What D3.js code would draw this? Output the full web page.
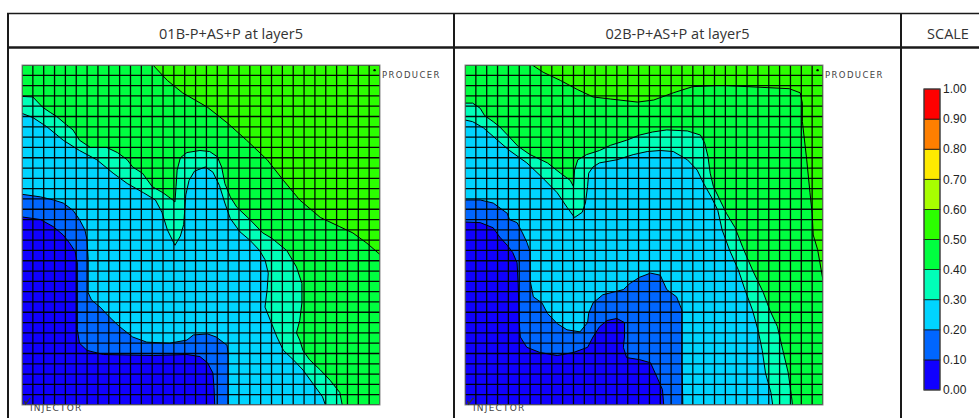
<!DOCTYPE html>
<html>
<head>
<meta charset="utf-8">
<script src="https://cdn.jsdelivr.net/npm/d3@7"></script>
<style>
  body { margin: 0; background: #fff; }
  svg { display: block; }
</style>
</head>
<body>
<svg id="chart" width="979" height="418"></svg>
<script>
// ---- colour scale (saturation bands) ----
const bandEdges = [0, 0.1, 0.2, 0.3, 0.4, 0.5, 0.6, 0.7, 0.8, 0.9, 1.0];
const bandColors = ["#1000ff", "#0066ff", "#00d4ff", "#00ffb8", "#00ff40",
                    "#2cff00", "#a8ff00", "#ffea00", "#ff7f00", "#ff0000"];
const scaleTickLabels = ["0.00", "0.10", "0.20", "0.30", "0.40", "0.50",
                         "0.60", "0.70", "0.80", "0.90", "1.00"];

const panelTitles = ["01B-P+AS+P at layer5", "02B-P+AS+P at layer5"];
const scaleTitle = "SCALE";
const wellNames = ["PRODUCER", "INJECTOR"];
// wells sit in the centre of a corner cell (column, row)
const producerCell = [32, 0];
const injectorCell = [0, 32];
const gridCells = 33;

// ---- iso-lines, grid (column,row) units; each bounds the region at/above its level ----
// case 01B
const p1Iso01 = [[-1,14.6],[1.7,15.0],[2.9,15.7],[3.8,16.5],[4.4,17.3],[4.9,18.1],[5.1,19.2],[5.1,25.7],[5.3,27.0],[6.0,27.7],[7.5,28.1],[12.1,28.2],[15.2,28.1],[16.4,28.3],[17.1,28.9],[17.6,29.9],[17.7,31.3],[17.8,34]];
const p1Iso02 = [[-1,12.4],[1.7,12.8],[2.9,13.1],[3.8,13.4],[4.7,14.1],[5.3,15.0],[5.8,16.0],[6.0,17.0],[6.1,18.9],[6.1,22.1],[6.4,22.8],[7.2,23.5],[8.1,24.5],[9.0,25.4],[10.2,26.4],[11.5,26.9],[13.6,27.0],[15.2,26.7],[15.8,26.2],[17.1,26.1],[17.9,26.4],[18.9,27.2],[19.0,28.0],[19.0,34]];
const p1Iso03 = [[-1,4.3],[1.0,5.1],[2.3,6.0],[3.8,7.3],[5.3,8.3],[6.9,9.2],[8.4,10.5],[9.7,11.5],[11.2,12.4],[12.3,13.1],[12.9,14.3],[13.4,16.0],[14.1,17.5],[14.6,16.6],[14.9,15.5],[15.0,14.1],[15.1,12.6],[15.4,11.2],[15.9,10.3],[16.9,9.9],[17.6,10.4],[18.2,11.7],[18.7,13.4],[19.2,14.9],[20.1,16.2],[21.0,17.0],[21.9,18.0],[22.4,18.9],[22.7,20.2],[22.6,21.8],[22.4,23.5],[22.9,24.8],[23.5,26.4],[24.1,27.7],[25.0,28.6],[25.9,29.6],[26.8,30.9],[27.7,32.2],[28.3,34]];
const p1Iso04 = [[-1,3.0],[1.0,3.1],[1.9,4.1],[2.6,4.6],[3.2,5.0],[4.1,5.8],[4.7,6.3],[5.3,7.3],[6.3,8.0],[7.8,8.0],[8.8,8.5],[9.7,9.2],[10.2,9.9],[11.1,10.5],[12.0,11.8],[13.0,12.4],[13.9,13.1],[14.1,13.3],[14.2,11.8],[14.3,10.2],[14.6,9.0],[15.2,8.5],[16.4,8.3],[17.3,8.4],[18.0,8.9],[18.4,9.9],[18.7,11.5],[19.2,12.8],[19.8,13.8],[21.0,15.0],[22.2,16.3],[23.0,16.8],[24.4,18.0],[25.3,19.6],[25.8,21.2],[25.8,23.1],[25.6,24.8],[25.3,26.0],[25.6,26.7],[25.9,27.7],[26.5,28.6],[27.5,29.6],[28.4,30.6],[29.3,31.8],[29.7,34]];
const p1Iso05 = [[11.9,-1],[12.07,0],[13.4,1.5],[14.8,2.7],[17.1,4.1],[18.9,5.6],[20.7,7.3],[22.6,9.2],[24.1,11.2],[25.6,13.1],[27.5,14.8],[29.3,15.7],[30.5,16.3],[31.8,17.3],[33,18.4],[34,19.2]];
// case 02B
const p2Iso01 = [[-1,15.2],[1.4,15.3],[2.6,15.8],[3.2,16.7],[3.9,17.5],[4.4,18.2],[4.8,19.2],[4.9,21.2],[5.0,25.0],[5.1,26.4],[5.7,27.4],[6.9,27.9],[8.5,28.2],[10.0,27.9],[11.3,27.4],[11.8,26.4],[12.4,25.4],[13.1,24.8],[14.0,24.6],[14.7,25.0],[14.7,26.4],[14.6,27.4],[14.9,28.4],[16.1,28.6],[17.1,28.9],[17.7,30.3],[18.2,31.5],[18.4,34]];
const p2Iso02 = [[-1,13.1],[1.4,13.1],[2.6,13.4],[3.9,14.4],[4.1,15.0],[4.8,15.3],[5.3,16.3],[5.7,17.2],[6.0,18.1],[6.0,20.9],[6.3,22.5],[7.1,23.1],[7.6,24.1],[8.5,25.1],[9.4,25.7],[10.6,25.9],[11.3,25.0],[11.4,24.1],[11.8,23.1],[12.7,22.3],[14.6,21.8],[15.2,21.2],[16.1,20.6],[17.1,20.2],[18.0,20.4],[18.6,21.8],[19.5,22.5],[20.0,23.8],[20.0,26.4],[20.0,28.9],[20.1,34]];
const p2Iso03 = [[-1,5.1],[0.7,5.5],[1.7,6.1],[3.0,7.3],[4.1,8.3],[5.7,9.5],[7.1,10.9],[8.5,12.4],[9.4,13.8],[10.1,14.8],[10.8,14.3],[11.1,13.4],[11.3,11.8],[11.4,10.5],[11.8,9.9],[12.4,9.5],[14.0,9.2],[15.5,8.7],[16.8,8.4],[18.0,8.3],[19.2,8.4],[20.5,9.2],[21.4,10.2],[22.0,11.5],[22.7,12.8],[23.3,14.1],[23.7,16.0],[24.4,18.0],[25.2,19.9],[25.8,21.8],[26.5,23.8],[27.0,25.7],[27.4,27.7],[27.7,29.9],[28.2,31.8],[28.5,34]];
const p2Iso04 = [[-1,3.7],[0.7,3.7],[1.4,4.2],[1.8,4.9],[2.6,5.5],[3.2,6.0],[4.1,7.0],[4.9,7.9],[6.0,8.7],[7.6,9.5],[8.8,10.5],[9.7,11.2],[10.0,11.8],[10.1,10.2],[10.4,9.2],[11.2,8.7],[12.4,8.3],[13.4,7.8],[14.9,7.3],[16.1,6.8],[17.3,6.5],[18.6,6.3],[20.5,6.4],[21.7,6.8],[22.1,7.6],[22.4,8.9],[22.6,10.5],[22.9,11.8],[23.5,13.1],[24.1,14.4],[24.9,15.8],[25.6,17.7],[26.5,19.9],[27.5,22.1],[28.1,23.8],[28.8,25.4],[29.3,27.7],[29.8,29.9],[30.1,32.2],[30.3,34]];
const p2Iso05 = [[6.0,-1],[6.2,0],[7.2,0.7],[8.8,1.5],[10.4,2.4],[11.8,3.1],[13.4,3.3],[15.9,3.6],[17.4,3.4],[19.2,2.7],[21.0,2.1],[23.2,2.0],[24.1,2.0],[29.9,2.3],[30.9,2.7],[31.1,3.7],[31.1,5.5],[31.5,9.2],[31.8,12.4],[32.0,14.4],[32.1,16.5],[32.5,17.9],[33,20.9],[34,22]];

// corners that close an iso-line around the upper-right side of the section
const closeFromLeft = [[34,34],[34,-1],[-1,-1]];
const closeFromTop = [[34,-1]];

const panels = [
  { title: panelTitles[0], x0: 22, iso: [
    { level: 0.1, line: p1Iso01, close: closeFromLeft },
    { level: 0.2, line: p1Iso02, close: closeFromLeft },
    { level: 0.3, line: p1Iso03, close: closeFromLeft },
    { level: 0.4, line: p1Iso04, close: closeFromLeft },
    { level: 0.5, line: p1Iso05, close: closeFromTop } ] },
  { title: panelTitles[1], x0: 465, iso: [
    { level: 0.1, line: p2Iso01, close: closeFromLeft },
    { level: 0.2, line: p2Iso02, close: closeFromLeft },
    { level: 0.3, line: p2Iso03, close: closeFromLeft },
    { level: 0.4, line: p2Iso04, close: closeFromLeft },
    { level: 0.5, line: p2Iso05, close: closeFromTop } ] }
];

const svg = d3.select("#chart");
const secW = 358, secH = 340, secTop = 65;
const color = d3.scaleThreshold().domain(bandEdges.slice(1, -1)).range(bandColors);

// ---- table frame ----
const frame = svg.append("g").attr("stroke", "#1a1a1a").attr("fill", "none");
frame.append("line").attr("x1", 7).attr("x2", 979).attr("y1", 13.5).attr("y2", 13.5).attr("stroke-width", 1.5);
frame.append("line").attr("x1", 7).attr("x2", 979).attr("y1", 47.5).attr("y2", 47.5).attr("stroke-width", 2.5);
[8, 454, 901].forEach(xv => frame.append("line").attr("x1", xv).attr("x2", xv)
  .attr("y1", 13).attr("y2", 418).attr("stroke-width", 2));

const headerCenters = [231, 677.5, 948];
[panelTitles[0], panelTitles[1], scaleTitle].forEach((t, i) => {
  svg.append("text").attr("x", headerCenters[i]).attr("y", 38.5)
    .attr("text-anchor", "middle").attr("font-family", "'Open Sans', sans-serif")
    .attr("font-size", 14.5).attr("fill", "#333").text(t);
});

// ---- saturation sections ----
panels.forEach((p, i) => {
  const x = d3.scaleLinear().domain([0, gridCells]).range([p.x0, p.x0 + secW]);
  const y = d3.scaleLinear().domain([0, gridCells]).range([secTop, secTop + secH]);
  const clipId = "sec-clip-" + i;
  svg.append("clipPath").attr("id", clipId).append("rect")
    .attr("x", x(0)).attr("y", y(0)).attr("width", secW).attr("height", secH);

  const g = svg.append("g").attr("clip-path", `url(#${clipId})`);
  g.append("rect").attr("x", x(0)).attr("y", y(0)).attr("width", secW).attr("height", secH)
    .attr("fill", color(0));

  const line = d3.line().x(d => x(d[0])).y(d => y(d[1]));
  p.iso.forEach(c => {
    g.append("path").attr("d", line(c.line.concat(c.close)) + "Z")
      .attr("fill", color(c.level + 0.001)).attr("stroke", "none");
  });

  // simulation grid blocks
  const grid = g.append("g").attr("stroke", "#000").attr("stroke-width", 1.3).attr("stroke-opacity", 0.95);
  d3.range(gridCells + 1).forEach(k => {
    grid.append("line").attr("x1", x(k)).attr("x2", x(k)).attr("y1", y(0)).attr("y2", y(gridCells));
    grid.append("line").attr("y1", y(k)).attr("y2", y(k)).attr("x1", x(0)).attr("x2", x(gridCells));
  });

  // iso-lines
  p.iso.forEach(c => {
    g.append("path").attr("d", line(c.line)).attr("fill", "none")
      .attr("stroke", "#000").attr("stroke-width", 1);
  });

  svg.append("rect").attr("x", x(0)).attr("y", y(0)).attr("width", secW).attr("height", secH)
    .attr("fill", "none").attr("stroke", "#8a8a8a").attr("stroke-width", 1);

  // wells
  const pc = [x(producerCell[0] + 0.5), y(producerCell[1] + 0.5)];
  svg.append("circle").attr("cx", pc[0]).attr("cy", pc[1]).attr("r", 1.2).attr("fill", "#000");
  svg.append("text").attr("x", x(gridCells) + 2).attr("y", y(0) + 13)
    .attr("font-family", "'DejaVu Sans', sans-serif").attr("font-size", 8.5)
    .attr("letter-spacing", 1.4).attr("fill", "#444").text(wellNames[0]);
  const ic = [x(injectorCell[0] + 0.5), y(injectorCell[1] + 0.5)];
  svg.append("path")
    .attr("d", `M${ic[0] - 3},${ic[1] + 1} L${ic[0] - 1.8},${ic[1] + 4} L${ic[0] + 3},${ic[1] - 2}`)
    .attr("fill", "none").attr("stroke", "#333").attr("stroke-width", 1.4);
  svg.append("text").attr("x", x(0) + 8).attr("y", y(gridCells) + 5.5)
    .attr("font-family", "'DejaVu Sans', sans-serif").attr("font-size", 9)
    .attr("letter-spacing", 1.2).attr("fill", "#444").text(wellNames[1]);
});

// ---- colour scale bar ----
const ys = d3.scaleLinear().domain([0, 1]).range([390, 89]);
const bar = svg.append("g");
bandColors.forEach((c, k) => {
  bar.append("rect").attr("x", 924).attr("width", 16)
    .attr("y", ys(bandEdges[k + 1])).attr("height", ys(bandEdges[k]) - ys(bandEdges[k + 1]))
    .attr("fill", c).attr("stroke", "#111").attr("stroke-width", 0.8);
});
bar.append("rect").attr("x", 924).attr("y", ys(1)).attr("width", 16).attr("height", ys(0) - ys(1))
  .attr("fill", "none").attr("stroke", "#444").attr("stroke-width", 1);
bandEdges.forEach((v, k) => {
  bar.append("text").attr("x", 943).attr("y", ys(v)).attr("dy", "0.35em")
    .attr("font-family", "'Liberation Sans', Arial, sans-serif").attr("font-size", 12)
    .attr("fill", "#222").text(scaleTickLabels[k]);
});
</script>
</body>
</html>
